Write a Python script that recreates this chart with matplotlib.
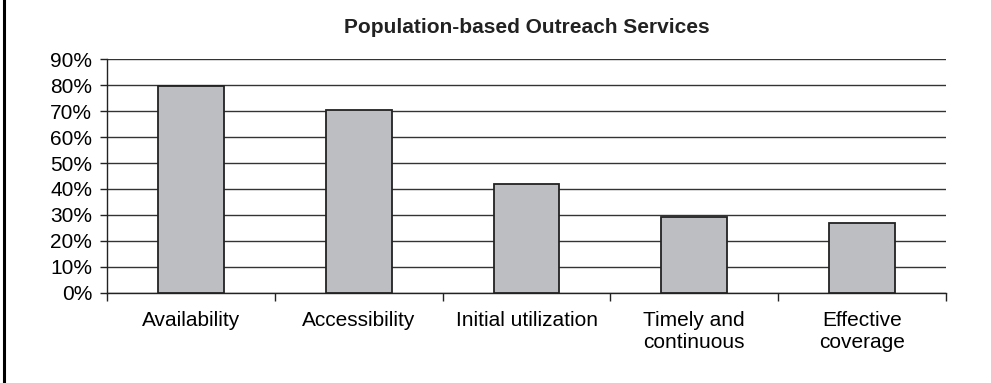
import matplotlib
matplotlib.use("Agg")
import matplotlib.pyplot as plt
from matplotlib.ticker import FixedLocator, PercentFormatter

CATEGORIES = [
    "Availability",
    "Accessibility",
    "Initial utilization",
    "Timely and\ncontinuous",
    "Effective\ncoverage",
]
VALUES = [79.6, 70.6, 42.0, 29.2, 27.0]
Y_TICKS = [0, 10, 20, 30, 40, 50, 60, 70, 80, 90]
TITLE = "Population-based Outreach Services"

plt.rcParams["font.family"] = ["Liberation Sans", "DejaVu Sans"]

fig = plt.figure(figsize=(9.91, 3.83), dpi=100)
ax = fig.add_axes([0.1083, 0.2358, 0.846, 0.6094])

x = list(range(len(CATEGORIES)))
ax.bar(x, VALUES, width=0.39, color="#bdbec2", edgecolor="#222222",
       linewidth=1.3, zorder=3)

ax.set_xlim(-0.5, len(CATEGORIES) - 0.5)
ax.set_ylim(0, 90)
ax.set_yticks(Y_TICKS)
ax.yaxis.set_major_formatter(PercentFormatter(decimals=0))
ax.yaxis.grid(True, color="#333333", linewidth=1.0, zorder=0)

ax.set_xticks(x)
ax.set_xticklabels(CATEGORIES, fontsize=15, linespacing=1.2)
ax.xaxis.set_minor_locator(FixedLocator([i - 0.5 for i in range(len(CATEGORIES) + 1)]))
ax.tick_params(axis="x", which="major", length=0, pad=13)
ax.tick_params(axis="x", which="minor", length=6, width=1.0, color="#222222")
ax.tick_params(axis="y", length=5, width=1.0, color="#222222", labelsize=15, pad=6)

for side in ["top", "right"]:
    ax.spines[side].set_visible(False)
ax.spines["left"].set_color("#222222")
ax.spines["bottom"].set_color("#222222")
ax.spines["left"].set_linewidth(1.0)
ax.spines["bottom"].set_linewidth(1.0)

fig.text(0.5313, 0.927, TITLE, ha="center", va="center",
         fontsize=15, fontweight="bold", color="#222222")

# left edge of the frame
fig.add_artist(plt.Line2D([0.0045, 0.0045], [0.0, 1.0], color="black",
                          linewidth=2.2, transform=fig.transFigure))

plt.savefig("out.png", dpi=100)
